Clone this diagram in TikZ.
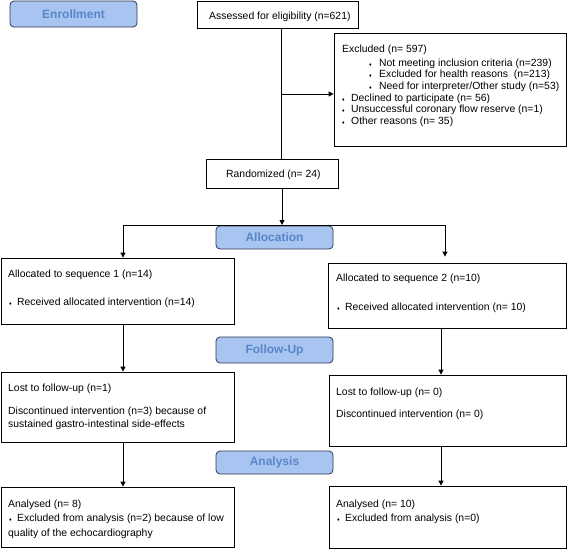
\documentclass[tikz,border=0pt]{standalone}
\usepackage{fontspec}
\setmainfont{Liberation Sans}
\usetikzlibrary{arrows.meta,fit}
\definecolor{lblfill}{RGB}{168,196,240}
\definecolor{lbltext}{RGB}{88,134,200}
\definecolor{lbldraw}{RGB}{45,55,85}
\newcommand\dmd{{\fontsize{5}{5}\selectfont ♦}}
\begin{document}
\begin{tikzpicture}[x=1pt,y=-1pt,
  box/.style={draw, line width=0.8pt, inner sep=0pt},
  lbl/.style={draw=lbldraw, fill=lblfill, rounded corners=4pt, line width=0.8pt, text=lbltext, font=\fontsize{12}{14}\selectfont\bfseries, inner sep=0pt, minimum width=117pt, minimum height=24pt},
  txt/.style={anchor=base west, inner sep=0pt, font=\fontsize{10.4}{12}\selectfont},
  arr/.style={line width=0.9pt, -{Triangle[length=5pt,width=5pt]}},
  ln/.style={line width=0.9pt}]
\useasboundingbox (0,0) rectangle (568,549);

% phase labels
\node[lbl, minimum width=127pt, minimum height=26pt] (enroll) at (73.5,14) {Enrollment};
\node[lbl, minimum height=23pt] (alloc) at (274.5,237.5) {Allocation};
\node[lbl, minimum height=26pt] (follow) at (274.5,350) {Follow-Up};
\node[lbl, minimum height=23pt] (analysis) at (274.5,462.5) {Analysis};

% boxes
\node[box, fit={(197,1) (358,28)}] (assessed) {};
\node[box, fit={(334,33) (566,146)}] (excluded) {};
\node[box, fit={(206,159) (338,188)}] (randomized) {};
\node[box, fit={(1,258) (234,324)}] (seq1) {};
\node[box, fit={(328,263) (566,328)}] (seq2) {};
\node[box, fit={(1,372) (234,442)}] (lost1) {};
\node[box, fit={(329,375) (566,446)}] (lost2) {};
\node[box, fit={(1,487) (234,547)}] (ana1) {};
\node[box, fit={(329,486) (566,548)}] (ana2) {};

% texts
\node[txt] (t-ass) at (209,19) {Assessed for eligibility (n=621)};
\node[txt] (t-ex0) at (342,52) {Excluded (n= 597)};
\node[txt] (b-ex1) at (369,66) {\dmd};
\node[txt] (t-ex1) at (379,66) {Not meeting inclusion criteria (n=239)};
\node[txt] (b-ex2) at (369,77.7) {\dmd};
\node[txt] (t-ex2) at (379,77.7) {Excluded for health reasons\ \ (n=213)};
\node[txt] (b-ex3) at (369,89.4) {\dmd};
\node[txt] (t-ex3) at (379,89.4) {Need for interpreter/Other study (n=53)};
\node[txt] (b-ex4) at (342,101.1) {\dmd};
\node[txt] (t-ex4) at (351,101.1) {Declined to participate (n= 56)};
\node[txt] (b-ex5) at (342,112.8) {\dmd};
\node[txt] (t-ex5) at (351,112.8) {Unsuccessful coronary flow reserve (n=1)};
\node[txt] (b-ex6) at (342,124.5) {\dmd};
\node[txt] (t-ex6) at (351,124.5) {Other reasons (n= 35)};
\node[txt] (t-rand) at (226,177) {Randomized (n= 24)};

\node[txt] (t-s1a) at (8,277) {Allocated to sequence 1 (n=14)};
\node[txt] (b-s1b) at (9,305) {\dmd};
\node[txt] (t-s1b) at (17,305) {Received allocated intervention (n=14)};
\node[txt] (t-s2a) at (336,281) {Allocated to sequence 2 (n=10)};
\node[txt] (b-s2b) at (337,310) {\dmd};
\node[txt] (t-s2b) at (345,310) {Received allocated intervention (n= 10)};

\node[txt] (t-l1a) at (8,391) {Lost to follow-up (n=1)};
\node[txt] (t-l1b) at (8,414) {Discontinued intervention (n=3) because of};
\node[txt] (t-l1c) at (8,427) {sustained gastro-intestinal side-effects};
\node[txt] (t-l2a) at (336,395) {Lost to follow-up (n= 0)};
\node[txt] (t-l2b) at (336,417) {Discontinued intervention (n= 0)};

\node[txt] (t-a1a) at (8,507) {Analysed (n= 8)};
\node[txt] (b-a1b) at (9,521) {\dmd};
\node[txt] (t-a1b) at (17,521) {Excluded from analysis (n=2) because of low};
\node[txt] (t-a1c) at (8,536) {quality of the echocardiography};
\node[txt] (t-a2a) at (336,507) {Analysed (n= 10)};
\node[txt] (b-a2b) at (337,521) {\dmd};
\node[txt] (t-a2b) at (345,521) {Excluded from analysis (n=0)};

% connectors
\coordinate (sp) at (281,94);
\coordinate (hl) at (282,225);
\coordinate (hL) at (123,225);
\coordinate (hR) at (445,225);
\coordinate (cL) at (123,0);
\coordinate (cR) at (441,0);
\draw[ln] (assessed.south -| sp) -- (randomized.north -| sp);
\draw[arr] (sp) -- (excluded.west |- sp);
\draw[arr] (randomized.south -| hl) -- (hl);
\draw[arr] (hl) -| (seq1.north -| hL);
\draw[arr, shorten >=6pt] (hl) -| (seq2.north -| hR);
\draw[arr] (seq1.south -| cL) -- (lost1.north -| cL);
\draw[arr] (seq2.south -| cR) -- (lost2.north -| cR);
\draw[arr] (lost1.south -| cL) -- (ana1.north -| cL);
\draw[arr] (lost2.south -| cR) -- (ana2.north -| cR);
\end{tikzpicture}
\end{document}
